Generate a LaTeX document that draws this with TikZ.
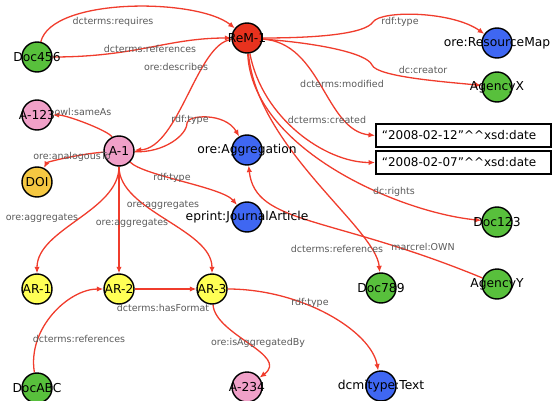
\documentclass[tikz,border=0pt]{standalone}
\usepackage{fontspec}
\setmainfont{DejaVu Sans}
\usetikzlibrary{arrows.meta,backgrounds}
\definecolor{relC}   {HTML}{F03C2C}
\definecolor{lblC}   {HTML}{5A5A5A}
\definecolor{remFill}{HTML}{E8321E}
\definecolor{docFill}{HTML}{58C03C}
\definecolor{clsFill}{HTML}{3F67F2}
\definecolor{aggFill}{HTML}{F0A0C8}
\definecolor{arFill} {HTML}{FFFF55}
\definecolor{doiFill}{HTML}{F5C842}
\tikzset{
  >={Latex[length=6.5pt,width=5.5pt]},
  every label/.append style={font=\fontsize{12.3}{14}\selectfont,text=black},
  res/.style={circle,draw=black,line width=1.4pt,minimum size=30pt,inner sep=0pt},
  resRem/.style={res,fill=remFill},
  resDoc/.style={res,fill=docFill},
  resCls/.style={res,fill=clsFill},
  resAgg/.style={res,fill=aggFill},
  resAR/.style={res,fill=arFill},
  resDOI/.style={res,fill=doiFill},
  litBox/.style={draw=black,line width=1.7pt,fill=white,anchor=west,
                 inner xsep=6pt,text width=163pt,minimum height=23pt,
                 align=left,font=\fontsize{12}{14}\selectfont},
  relEdge/.style={->,line width=1.3pt,relC},
  relLbl/.style={font=\fontsize{9.5}{11}\selectfont,text=lblC,inner sep=1pt},
}
\begin{document}
\begin{tikzpicture}[x=1pt,y=-1pt]
\useasboundingbox (0,0) rectangle (554,401);

% Resource map and what is said about it
\node[resRem,label={center:ReM-1}]           (rem)    at (247,38)  {};
\node[resCls,label={center:ore:ResourceMap}] (rmap)   at (497,43)  {};
\node[resDoc,label={center:AgencyX}]         (agx)    at (497,87)  {};
\node[litBox] (dateMod) at (375,135.5) {``2008-02-12''\textasciicircum\textasciicircum xsd:date};
\node[litBox] (dateCre) at (375,162.5) {``2008-02-07''\textasciicircum\textasciicircum xsd:date};
\node[resDoc,label={center:Doc123}]          (doc123) at (497,222) {};
\node[resDoc,label={center:AgencyY}]         (agy)    at (497,284) {};
\node[resDoc,label={center:Doc789}]          (doc789) at (381,288) {};
\node[resDoc,label={center:Doc456}]          (doc456) at (37,57)   {};

% Aggregation and its resources
\node[resAgg,label={center:A-1}]             (a1)     at (119,151) {};
\node[resAgg,label={center:A-123}]           (a123)   at (37,115)  {};
\node[resDOI,label={center:DOI}]             (doi)    at (37,182)  {};
\node[resCls,label={center:ore:Aggregation}] (agg)    at (247,150) {};
\node[resCls,label={center:eprint:JournalArticle}] (ja) at (247,217) {};
\node[resAR,label={center:AR-1}]             (ar1)    at (37,289)  {};
\node[resAR,label={center:AR-2}]             (ar2)    at (119,289) {};
\node[resAR,label={center:AR-3}]             (ar3)    at (212,289) {};
\node[resDoc,label={center:DocABC}]          (docabc) at (37,388)  {};
\node[resAgg,label={center:A-234}]           (a234)   at (247,387) {};
\node[resCls,label={center:dcmitype:Text}]   (txt)    at (381,386) {};

% Edge labels
\node[relLbl] (lRequires) at (113,22)  {dcterms:requires};
\node[relLbl] (lRefs456)  at (150,49)  {dcterms:references};
\node[relLbl] (lDescr)    at (176,67)  {ore:describes};
\node[relLbl] (lSame)     at (83,112)  {owl:sameAs};
\node[relLbl] (lTypeAgg)  at (190,120) {rdf:type};
\node[relLbl] (lAnalog)   at (72,157)  {ore:analogousTo};
\node[relLbl] (lTypeJA)   at (172,178) {rdf:type};
\node[relLbl] (lAggr3)    at (163,205) {ore:aggregates};
\node[relLbl] (lAggr1)    at (42,218)  {ore:aggregates};
\node[relLbl] (lAggr2)    at (132,223) {ore:aggregates};
\node[relLbl] (lFormat)   at (163,308) {dcterms:hasFormat};
\node[relLbl] (lRefsABC)  at (79,339)  {dcterms:references};
\node[relLbl] (lIsAggr)   at (258,343) {ore:isAggregatedBy};
\node[relLbl] (lTypeTxt)  at (310,303) {rdf:type};
\node[relLbl] (lTypeReM)  at (400,22)  {rdf:type};
\node[relLbl] (lCreator)  at (423,70)  {dc:creator};
\node[relLbl] (lModified) at (342,84)  {dcterms:modified};
\node[relLbl] (lCreated)  at (327,120) {dcterms:created};
\node[relLbl] (lRights)   at (394,192) {dc:rights};
\node[relLbl] (lOwn)      at (423,247) {marcrel:OWN};
\node[relLbl] (lRefs789)  at (337,249) {dcterms:references};

\begin{scope}[on background layer]
% from the resource map
\draw[relEdge] (rem) .. controls +(70,0) and +(-8,12) .. (373,22)
                     .. controls +(8,-12) and +(-45,-32) .. (rmap);
\draw[relEdge] (rem) .. controls +(70,5) and +(-5,-12) .. (372,65)
                     .. controls +(5,12) and +(-50,-5) .. (agx);
\draw[relEdge] (rem) .. controls +(75,5) and +(-50,-5) .. (dateMod.west);
\draw[relEdge] (rem) .. controls +(15,80) and +(-50,0) .. (dateCre.west);
\draw[relEdge] (rem) .. controls +(5,110) and +(-100,-10) .. (doc123);
\draw[relEdge] (rem) .. controls +(10,110) and +(-5,-60) .. (doc789);
\draw[relEdge] (rem) .. controls +(-50,5) and +(60,-3) .. (a1);
\draw[relEdge] (doc456) .. controls +(15,-60) and +(-50,-40) .. (rem);
\draw[relEdge] (doc456) .. controls +(100,0) and +(-80,0) .. (rem);
\draw[relEdge] (agy) .. controls +(-167,-69) and +(8,75) .. (agg);

% from the aggregation
\draw[relEdge] (a1) .. controls +(-10,-20) and +(30,0) .. (a123);
\draw[relEdge] (a1) .. controls +(-40,3) and +(10,-20) .. (doi);
\draw[relEdge] (a1) .. controls +(45,2) and +(0,12) .. (187,123)
                    .. controls +(0,-8) and +(-22,-38) .. (agg);
\draw[relEdge] (a1) .. controls +(25,25) and +(-25,-30) .. (ja);
\draw[relEdge] (a1) .. controls +(0,60) and +(0,-60) .. (ar1);
\draw[relEdge] (a1) -- (ar2);
\draw[relEdge] (a1) .. controls +(0,60) and +(0,-60) .. (ar3);

% between the aggregated resources
\draw[relEdge] (ar2) -- (ar3);
\draw[relEdge] (docabc) .. controls +(-10,-60) and +(-50,0) .. (ar2);
\draw[relEdge] (ar3) .. controls +(3,46) and +(43,-32) .. (a234);
\draw[relEdge] (ar3) .. controls +(90,0) and +(-10,-55) .. (txt);
\end{scope}

\end{tikzpicture}
\end{document}
